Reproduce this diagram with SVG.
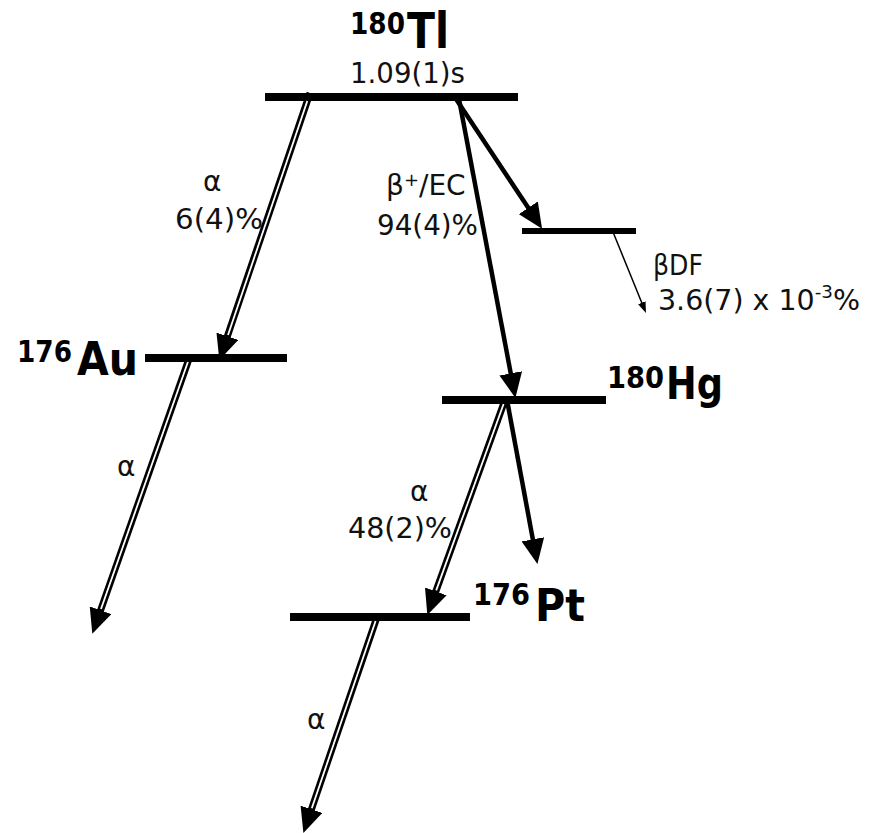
<svg xmlns="http://www.w3.org/2000/svg" width="878" height="833" viewBox="0 0 878 833">
<style>
.lvl{stroke:#000;stroke-width:8;fill:none}
.thick{stroke:#000;stroke-width:4.5;fill:none}
.thin{stroke:#000;stroke-width:1.5;fill:none}
.dbl{stroke:#000;stroke-width:7;fill:none}
.gap{stroke:#fff;stroke-width:1.8;fill:none}
.sym{font-family:"DejaVu Sans",Verdana,sans-serif;font-weight:bold;fill:#000}
.lab{font-family:"DejaVu Sans",Verdana,sans-serif;fill:#111;font-size:28px}
</style>
<defs>
<marker id="ah" markerUnits="userSpaceOnUse" viewBox="0 0 25 23" markerWidth="25" markerHeight="23" refX="3" refY="11.5" orient="auto">
<path d="M0,0 L25,11.5 L0,23 Z" fill="#000"/>
</marker>
<marker id="ahs" markerUnits="userSpaceOnUse" viewBox="0 0 11 8" markerWidth="11" markerHeight="8" refX="1" refY="4" orient="auto">
<path d="M0,0 L11,4 L0,8 Z" fill="#000"/>
</marker>
</defs>
<rect width="878" height="833" fill="#fff"/>

<g id="tl180">
<line class="lvl" x1="265" y1="97" x2="518" y2="97"/>
<text class="sym" x="350" y="34" font-size="30" textLength="55" lengthAdjust="spacingAndGlyphs">180</text>
<text class="sym" x="407" y="48" font-size="50" textLength="42" lengthAdjust="spacingAndGlyphs">Tl</text>
<text class="lab" x="350" y="83" textLength="115" lengthAdjust="spacingAndGlyphs">1.09(1)s</text>
</g>

<g id="au176">
<line class="lvl" x1="145" y1="358" x2="287" y2="358"/>
<text class="sym" x="17" y="362" font-size="31" textLength="55" lengthAdjust="spacingAndGlyphs">176</text>
<text class="sym" x="77" y="375" font-size="46" textLength="61" lengthAdjust="spacingAndGlyphs">Au</text>
</g>

<g id="intermediate">
<line class="lvl" x1="522" y1="231" x2="636" y2="231" style="stroke-width:6"/>
</g>

<g id="hg180">
<line class="lvl" x1="442" y1="400" x2="606" y2="400"/>
<text class="sym" x="607" y="388" font-size="31" textLength="57" lengthAdjust="spacingAndGlyphs">180</text>
<text class="sym" x="666" y="399" font-size="44" textLength="57" lengthAdjust="spacingAndGlyphs">Hg</text>
</g>

<g id="pt176">
<line class="lvl" x1="290" y1="617" x2="470" y2="617"/>
<text class="sym" x="473" y="605" font-size="31" textLength="57" lengthAdjust="spacingAndGlyphs">176</text>
<text class="sym" x="535" y="621" font-size="45" textLength="50" lengthAdjust="spacingAndGlyphs">Pt</text>
</g>

<g id="connectors">
<path class="dbl" d="M310,93 L226.4,339.1" marker-end="url(#ah)"/>
<path class="gap" d="M307.3,101 L228,335"/>
<path class="dbl" d="M190,356 L99.6,613.1" marker-end="url(#ah)"/>
<path class="gap" d="M187.9,362 L101,609"/>
<path class="thick" d="M459,99 L511.3,376.3" marker-end="url(#ah)"/>
<path class="thick" d="M456,99 L529.9,210.3" marker-end="url(#ah)"/>
<path class="thin" d="M613,232 L642.2,303.7" marker-end="url(#ahs)"/>
<path class="dbl" d="M505,400 L434.8,594.2" marker-end="url(#ah)"/>
<path class="gap" d="M503.6,404 L436.2,590.4"/>
<path class="thick" d="M507,400 L533.4,542.3" marker-end="url(#ah)"/>
<path class="dbl" d="M377,617 L310.5,812.1" marker-end="url(#ah)"/>
<path class="gap" d="M375.6,621 L311.8,808.3"/>
</g>

<g id="labels">
<text class="lab" x="203" y="191" font-size="25">α</text>
<text class="lab" x="175" y="229" textLength="88" lengthAdjust="spacingAndGlyphs">6(4)%</text>
<text class="lab" x="386" y="195">β<tspan dy="-9" font-size="18">+</tspan><tspan dy="9">/EC</tspan></text>
<text class="lab" x="377" y="235" textLength="101" lengthAdjust="spacingAndGlyphs">94(4)%</text>
<text class="lab" x="653" y="275" textLength="50" lengthAdjust="spacingAndGlyphs">βDF</text>
<text class="lab" x="658" y="310" textLength="202" lengthAdjust="spacingAndGlyphs">3.6(7) x 10<tspan dy="-12" font-size="18">-3</tspan><tspan dy="12">%</tspan></text>
<text class="lab" x="117" y="476" font-size="24">α</text>
<text class="lab" x="410" y="501" font-size="24">α</text>
<text class="lab" x="348" y="538" textLength="104" lengthAdjust="spacingAndGlyphs">48(2)%</text>
<text class="lab" x="307" y="729" font-size="24">α</text>
</g>
</svg>
